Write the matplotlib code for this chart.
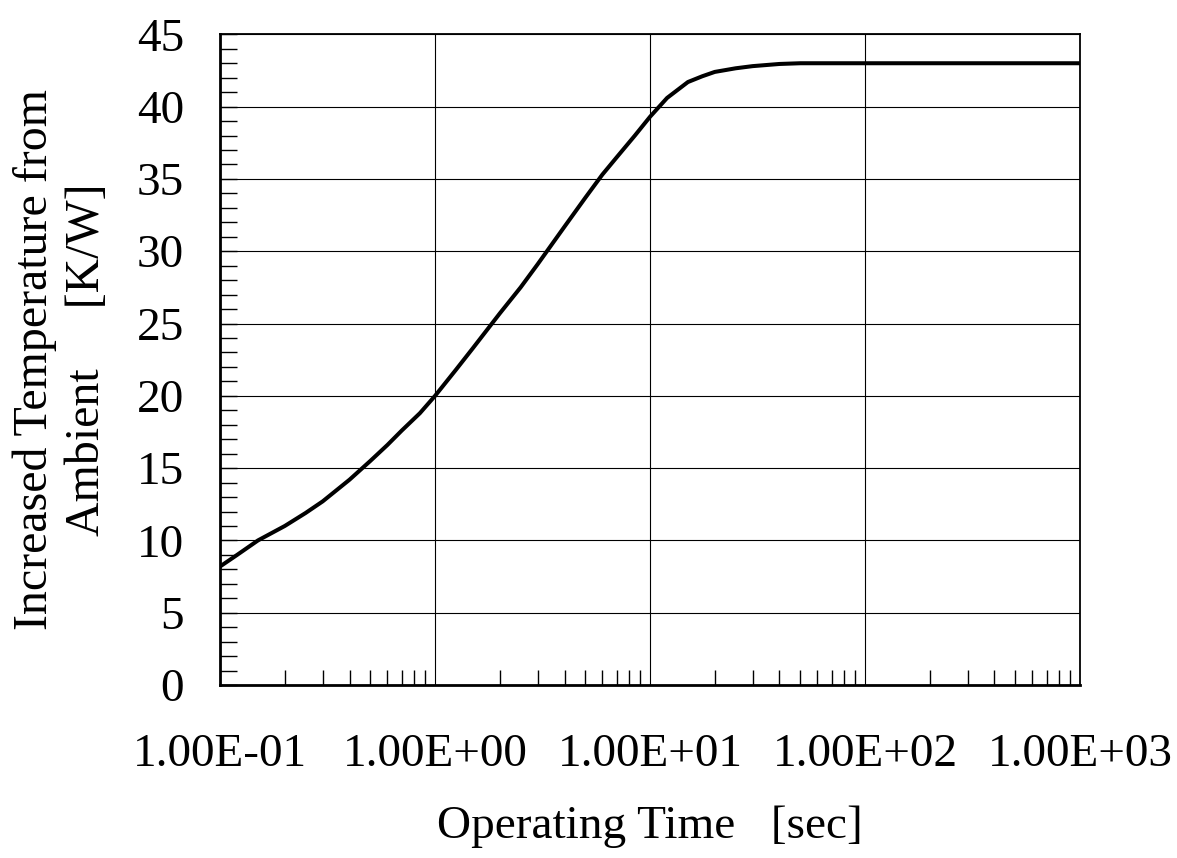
#curva de calentamiento
import numpy as np
import matplotlib.pyplot as plt
from matplotlib.ticker import FuncFormatter, MultipleLocator, LogLocator

#Datos
tiempo = [0.1, 0.12, 0.15, 0.2, 0.25, 0.3, 0.4, 0.5, 0.6, 0.7, 0.85, 1.0, 1.25, 1.5,
          2.0, 2.5, 3.0, 4.0, 5.0, 6.0, 7.0, 8.5, 10.0, 12.0, 15.0, 17.5, 20.0,
          25.0, 30.0, 40.0, 50.0, 100.0, 300.0, 1000.0]
temperatura = [8.2, 9.0, 10.0, 11.0, 11.9, 12.7, 14.2, 15.5, 16.6, 17.6, 18.8, 20.0, 21.8, 23.3,
               25.7, 27.5, 29.1, 31.7, 33.7, 35.3, 36.5, 38.0, 39.3, 40.6, 41.7, 42.1, 42.4,
               42.65, 42.8, 42.95, 43.0, 43.0, 43.0, 43.0]

plt.rcParams['font.family'] = ['Liberation Serif', 'DejaVu Serif']

fig = plt.figure(figsize=(11.77, 8.58), dpi=100)
ax = fig.add_axes([0.187, 0.2016, 0.7306, 0.7584])

ax.plot(tiempo, temperatura, color='black', linewidth=2.9, solid_joinstyle='round')

ax.set_xscale('log')
ax.set_xlim(0.1, 1000)
ax.set_ylim(0, 45)

#Ejes y rejilla
ax.yaxis.set_major_locator(MultipleLocator(5))
ax.yaxis.set_minor_locator(MultipleLocator(1))
ax.xaxis.set_major_locator(LogLocator(base=10))
ax.xaxis.set_minor_locator(LogLocator(base=10, subs=np.arange(2, 10)))
ax.xaxis.set_major_formatter(FuncFormatter(lambda v, p: f"{v:.2E}"))

ax.grid(True, which='major', color='black', linewidth=0.8)
ax.tick_params(axis='both', which='both', direction='in', color='black')
ax.tick_params(axis='y', which='both', length=12, width=1, pad=26, labelsize=34)
ax.tick_params(axis='x', which='major', length=0, pad=35, labelsize=34)
ax.tick_params(axis='x', which='minor', length=11, width=1)
ax.tick_params(axis='x', which='both', top=False)
ax.tick_params(axis='y', which='both', right=False)
for s in ax.spines.values():
    s.set_linewidth(1.3)
ax.spines['bottom'].set_linewidth(2)
ax.spines['left'].set_linewidth(2)

ax.set_xlabel("Operating Time   [sec]", fontsize=34, labelpad=21)
ax.set_ylabel("Increased Temperature from\nAmbient     [K/W]", fontsize=34.5,
              labelpad=20, linespacing=1.22)

plt.savefig("out.png", dpi=100)
